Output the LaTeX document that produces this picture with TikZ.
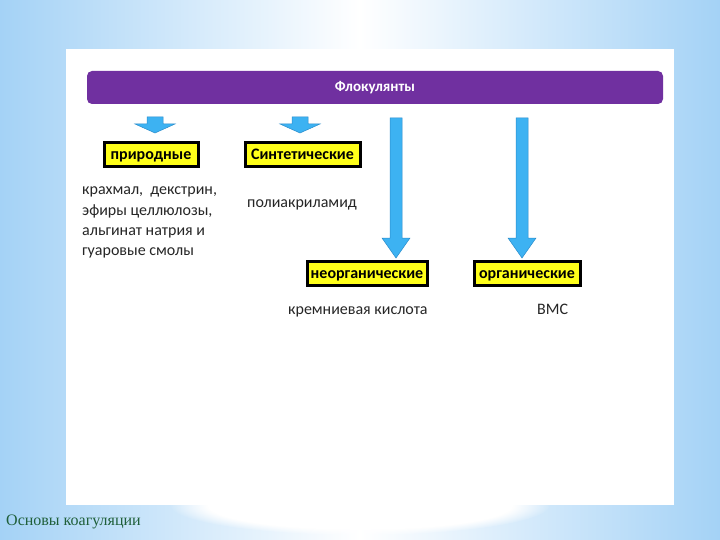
\documentclass[tikz,border=0pt]{standalone}
\usepackage{fontspec}
\setmainfont{Carlito}
\newfontfamily\footfont{Liberation Serif}
\usetikzlibrary{calc,fadings}
\definecolor{bgedge}{HTML}{A4D2F6}
\definecolor{purplebar}{HTML}{7030A0}
\definecolor{arrowblue}{HTML}{3DB2F2}
\definecolor{arrowline}{HTML}{2A8CCB}
\definecolor{boxyellow}{HTML}{FFFF1A}
\definecolor{footgreen}{HTML}{1F5F3A}
\tikzset{
  catbox/.style={draw=black, line width=3pt, fill=boxyellow, font=\bfseries\fontsize{16}{18}\selectfont, inner sep=0pt, minimum height=24pt, text height=12pt, text depth=2pt},
  plain/.style={font=\fontsize{16}{20.3}\selectfont, anchor=north west, inner sep=0pt, align=left, text=black!85},
  blockarrow/.style={fill=arrowblue, draw=arrowline, line width=0.5pt}
}
\begin{document}
\begin{tikzpicture}[x=1pt,y=-1pt]
\useasboundingbox (0,0) rectangle (720,540);
% background
\shade[left color=bgedge, right color=white] (0,0) rectangle (360,540);
\shade[left color=white, right color=bgedge] (360,0) rectangle (720,540);
\fill[white, path fading=circle with fuzzy edge 20 percent] (360,505) ellipse (190 and 30);
% panel
\fill[white] (66,49) rectangle (674,505);
% header bar
\node[fill=purplebar, rounded corners=5pt, minimum width=576pt, minimum height=33pt, text=white, font=\bfseries\fontsize{15}{17}\selectfont, inner sep=0pt] (flok) at (375,87.5) {Флокулянты};
% boxes
\node[catbox, minimum width=94pt] (nat) at (151,155) {природные};
\node[catbox, minimum width=115pt] (syn) at (302.5,155) {Синтетические};
\node[catbox, minimum width=120pt] (inorg) at (367,273.5) {неорганические};
\node[catbox, minimum width=106pt] (org) at (527,273.5) {органические};
% short block arrows
\foreach \x in {155, 300}{
  \draw[blockarrow] (\x-8,117) -- (\x+8,117) -- (\x+8,124) -- (\x+20,124) -- (\x,133) -- (\x-20,124) -- (\x-8,124) -- cycle;
}
% long block arrows
\foreach \x in {396, 522}{
  \draw[blockarrow] (\x-6,118) -- (\x+6,118) -- (\x+6,238) -- (\x+14,238) -- (\x,258) -- (\x-14,238) -- (\x-6,238) -- cycle;
}
% texts
\node[plain] (natx) at (82,187) {крахмал,\ \ декстрин,\\эфиры целлюлозы,\\альгинат натрия и\\гуаровые смолы};
\node[plain] (synx) at (247,200) {полиакриламид};
\node[plain] (inx) at (288,307) {кремниевая кислота};
\node[plain, anchor=base west] (orgx) at (inx.base -| 537,0) {ВМС};
% footer
\node[anchor=west, inner sep=0pt, text=footgreen, font=\footfont\fontsize{16}{18}\selectfont] (foot) at (6,522) {Основы коагуляции};
\end{tikzpicture}
\end{document}
